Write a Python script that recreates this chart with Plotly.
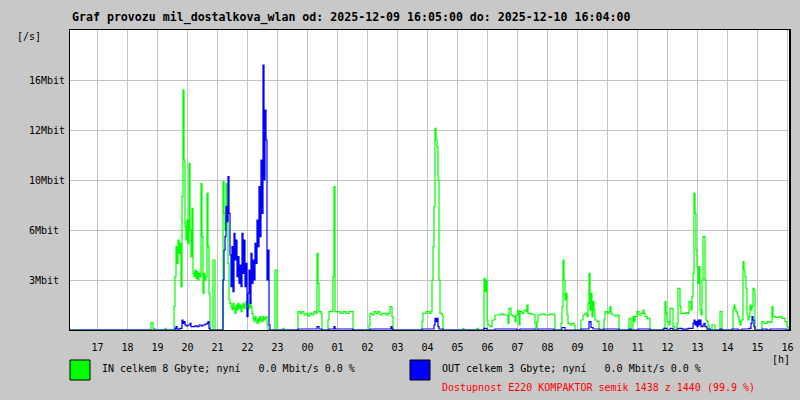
import plotly.graph_objects as go

# time axis: minutes since 2025-12-09 16:05
hour_ticks = [55 + 60 * i for i in range(24)]
hour_labels = ["17", "18", "19", "20", "21", "22", "23", "00", "01", "02", "03", "04",
               "05", "06", "07", "08", "09", "10", "11", "12", "13", "14", "15", "16"]

y_tickvals = [3, 6, 9, 12, 15]
y_ticktext = ["3Mbit\u00a0", "6Mbit\u00a0", "10Mbit", "12Mbit", "16Mbit"]

in_min = [0, 162, 166, 170, 190, 192, 208, 210, 212, 214, 216, 218, 220, 222, 224, 226, 228, 230,
          232, 234, 236, 238, 240, 242, 244, 246, 248, 250, 252, 254, 256, 258, 260, 262, 264, 266,
          268, 270, 272, 274, 276, 278, 280, 286, 290, 306, 308, 310, 312, 314, 316, 318, 320, 322,
          324, 326, 328, 330, 332, 334, 336, 338, 340, 342, 344, 346, 348, 350, 352, 354, 356, 358,
          360, 362, 364, 366, 368, 370, 372, 374, 376, 378, 380, 382, 384, 386, 388, 390, 392, 394,
          396, 410, 414, 426, 428, 456, 460, 464, 468, 472, 476, 480, 484, 488, 492, 494, 496, 498,
          502, 504, 516, 518, 526, 528, 530, 540, 546, 552, 558, 566, 598, 600, 604, 608, 612, 616,
          620, 624, 632, 636, 640, 644, 646, 704, 706, 712, 718, 722, 724, 726, 728, 730, 732, 734,
          736, 738, 740, 744, 746, 786, 788, 814, 816, 828, 830, 832, 834, 836, 840, 844, 850, 860,
          868, 876, 878, 882, 886, 890, 892, 896, 898, 900, 904, 908, 912, 914, 916, 922, 928, 930,
          932, 934, 936, 942, 950, 960, 968, 970, 982, 984, 986, 988, 990, 992, 994, 996, 1000, 1004,
          1008, 1010, 1022, 1026, 1030, 1034, 1036, 1038, 1040, 1042, 1044, 1046, 1048, 1050, 1054,
          1058, 1068, 1070, 1074, 1078, 1080, 1082, 1084, 1090, 1096, 1098, 1118, 1122, 1126, 1128,
          1130, 1134, 1138, 1142, 1146, 1148, 1150, 1154, 1160, 1186, 1190, 1192, 1194, 1198, 1200,
          1206, 1210, 1214, 1216, 1220, 1222, 1232, 1236, 1238, 1242, 1244, 1246, 1248, 1250, 1252,
          1254, 1256, 1258, 1260, 1262, 1264, 1266, 1270, 1272, 1274, 1276, 1278, 1280, 1284, 1290,
          1300, 1304, 1326, 1328, 1330, 1332, 1334, 1336, 1338, 1340, 1342, 1346, 1348, 1350, 1352,
          1354, 1356, 1358, 1360, 1362, 1364, 1366, 1368, 1370, 1384, 1388, 1394, 1400, 1404, 1406,
          1412, 1418, 1424, 1430, 1434, 1436, 1439]
in_mbit = [0, 0.44, 0.1, 0, 0.1, 0, 1.4, 3.2, 5.0, 4.0, 5.4, 4.6, 5.2, 2.6, 8.0, 14.4, 10.2, 6.2,
           5.4, 6.6, 5.2, 10.0, 6.0, 4.4, 7.3, 3.4, 3.2, 3.6, 3.1, 3.5, 3.0, 3.4, 3.2, 8.8, 5.6, 2.2,
           3.4, 3.0, 3.2, 8.2, 5.0, 2.2, 0, 4.2, 0, 8.9, 7.0, 6.0, 8.8, 7.2, 4.0, 1.8, 1.6, 1.4,
           1.2, 1.6, 1.3, 1.0, 1.5, 1.2, 1.6, 1.3, 1.5, 1.1, 1.4, 1.6, 1.3, 1.5, 1.7, 1.2, 1.5, 1.3,
           1.8, 1.4, 1.0, 0.7, 0.5, 0.8, 0.6, 0.4, 0.7, 0.5, 0.8, 0.6, 0.5, 0.8, 0.6, 0.7, 0.8, 0.3,
           0, 3.6, 0, 0.1, 0, 1.1, 1.0, 1.1, 0.9, 1.0, 0.85, 1.0, 0.9, 1.1, 1.0, 4.6, 2.8, 1.1,
           1.0, 0, 0.6, 1.1, 3.2, 8.6, 1.1, 1.0, 1.1, 1.0, 1.1, 0, 0.3, 1.0, 0.9, 1.1, 1.0, 1.1,
           0.9, 1.0, 0.9, 1.0, 1.4, 0.8, 0, 0.5, 1.0, 1.1, 1.0, 1.1, 3.0, 5.0, 7.4, 12.1, 11.4, 11.0,
           9.0, 3.0, 1.0, 0.9, 0, 0.1, 0, 0.1, 0, 3.1, 2.3, 3.0, 0.6, 0.3, 0.2, 0.6, 0.9, 0.95,
           0.9, 0.4, 1.3, 0.9, 0.8, 0.5, 0.9, 1.2, 0.3, 1.1, 1.0, 1.2, 1.1, 1.5, 1.0, 0.95, 0.9, 0.4,
           0.1, 0.5, 0.9, 0.95, 0.9, 0.95, 0.9, 0, 0.4, 1.4, 4.2, 3.0, 1.8, 2.2, 0.9, 0.4, 0.3, 0.4,
           0.3, 0, 0.6, 0.9, 1.0, 0.8, 1.6, 3.4, 1.2, 2.2, 0.8, 1.7, 1.2, 0.6, 0.5,
           0, 0.6, 1.1, 1.0, 1.1, 1.4, 1.0, 0.9, 0.85, 0.9, 0, 0.7, 0, 0.8, 0.5,
           0.8, 1.1, 0.9, 1.0, 1.2, 1.0, 0.8, 0.7, 0, 0.1, 1.7, 1.0, 0.5, 0.3, 1.3,
           0.2, 0, 0.4, 2.5, 1.4, 1.0, 1.05, 1.0, 1.7, 1.2, 2.0, 3.4, 8.2, 7.0, 4.8,
           3.8, 2.8, 3.8, 1.2, 0.9, 3.0, 5.6, 3.0, 0.6, 0.5, 0.3, 0.1, 0, 0.3, 0,
           1.1, 0, 1.2, 1.5, 1.3, 1.1, 1.0, 0.8, 0.5, 0.3, 0.6, 4.1, 3.6, 3.2, 2.5,
           0.9, 0.6, 0.8, 1.5, 1.2, 1.4, 2.5, 2.4, 0, 0.5, 0.4, 0.5, 0.45, 1.4, 0.8,
           0.75, 0.8, 0.7, 0.5, 0.2, 0, 0]

out_min = [0, 210, 212, 214, 220, 224, 226, 228, 230, 232, 236, 240, 242, 250, 254, 258, 262, 266,
           270, 274, 276, 278, 280, 306, 308, 310, 312, 314, 316, 318, 320, 322, 324, 326, 328, 330,
           332, 334, 336, 338, 340, 342, 344, 346, 348, 350, 352, 354, 356, 358, 360, 362, 364, 366,
           368, 370, 372, 374, 376, 378, 380, 382, 384, 386, 388, 390, 392, 394, 396, 398, 400, 456,
           494, 498, 504, 518, 528, 530, 566, 600, 642, 644, 646, 704, 728, 730, 732, 734, 736, 738,
           746, 828, 834, 850, 894, 900, 930, 936, 968, 984, 990, 1022, 1038, 1042, 1046, 1060, 1066,
           1098, 1118, 1122, 1136, 1160, 1188, 1194, 1200, 1206, 1216, 1224, 1236, 1246, 1248, 1250,
           1252, 1254, 1256, 1258, 1260, 1262, 1266, 1268, 1270, 1274, 1280, 1300, 1304, 1324, 1336,
           1344, 1358, 1362, 1364, 1366, 1368, 1370, 1384, 1394, 1400, 1432, 1439]
out_mbit = [0, 0.1, 0.2, 0.05, 0.1, 0.6, 0.4, 0.5, 0.3, 0.25, 0.3, 0.4, 0.2, 0.25, 0.2, 0.3, 0.25, 0.3,
            0.35, 0.4, 0.5, 0.1, 0, 3.0, 4.8, 5.6, 7.4, 6.5, 9.2, 7.0, 4.5, 2.6, 5.0, 2.3, 5.8, 4.2,
            5.4, 3.2, 4.4, 2.8, 3.9, 2.6, 5.8, 3.4, 5.4, 2.6, 4.0, 0.8, 2.2, 3.6, 1.6, 4.6, 2.8, 4.2,
            3.0, 5.2, 4.0, 6.6, 5.0, 8.6, 5.6, 10.2, 7.0, 15.9, 9.0, 13.2, 11.4, 3.0, 4.8, 0.3, 0, 0.06,
            0.2, 0.06, 0, 0.06, 0.2, 0.06, 0, 0.06, 0.2, 0.06, 0, 0.06, 0.3, 0.7, 0.5, 0.7, 0.2, 0.06,
            0, 0.1, 0, 0.06, 0, 0.06, 0, 0.06, 0, 0.15, 0, 0.06, 0.5, 0.15, 0.06, 0, 0.06,
            0, 0.06, 0, 0.06, 0, 0.1, 0, 0.1, 0, 0.1, 0.05, 0.1, 0.4, 0.6, 0.3,
            0.5, 0.2, 0.6, 0.3, 0.6, 0.2, 0.3, 0.4, 0.2, 0.05, 0, 0.06, 0, 0.06, 0,
            0.06, 0.1, 0.4, 0.8, 0.6, 0.2, 0, 0.06, 0, 0.06, 0, 0]

title_text = "Graf provozu mil_dostalkova_wlan od: 2025-12-09 16:05:00 do: 2025-12-10 16:04:00"
in_text = "IN celkem 8 Gbyte; nyní\u00a0\u00a0\u00a00.0 Mbit/s 0.0 %"
out_text = "OUT celkem 3 Gbyte; nyní\u00a0\u00a0\u00a00.0 Mbit/s 0.0 %"
avail_text = "Dostupnost E220 KOMPAKTOR semik 1438 z 1440 (99.9 %)"

GREEN = "#00ff00"
BLUE = "#0000ff"
MONO = "DejaVu Sans Mono"

fig = go.Figure()
fig.add_trace(go.Scatter(x=in_min, y=in_mbit, mode="lines", line=dict(color=GREEN, width=1.2, shape="hv"),
                         showlegend=False, hoverinfo="skip"))
fig.add_trace(go.Scatter(x=out_min, y=out_mbit, mode="lines", line=dict(color=BLUE, width=1.2, shape="hv"),
                         showlegend=False, hoverinfo="skip"))

L, T, W, H = 70, 30, 720, 300


def px(x):
    return (x - L) / W


def py(y):
    return (T + H - y) / H


fig.update_layout(
    width=800, height=400,
    margin=dict(l=L, r=800 - L - W, t=T, b=400 - T - H),
    paper_bgcolor="#c8c8c8", plot_bgcolor="#ffffff",
    font=dict(family=MONO, size=10, color="#000000"),
    xaxis=dict(range=[0, 1440], tickvals=hour_ticks, ticktext=hour_labels, showgrid=True,
               gridcolor="#c4c4c4", gridwidth=1, zeroline=False, showline=True, linecolor="#000000",
               linewidth=1, mirror=True, ticks="outside", ticklen=8, tickcolor="rgba(0,0,0,0)",
               tickfont=dict(family=MONO, size=10), automargin=False),
    yaxis=dict(range=[0, 18], tickvals=y_tickvals, ticktext=y_ticktext, showgrid=True,
               gridcolor="#c4c4c4", gridwidth=1, zeroline=False, showline=True, linecolor="#000000",
               linewidth=1, mirror=True, ticks="outside", ticklen=0, tickcolor="rgba(0,0,0,0)",
               ticklabelstandoff=2, tickfont=dict(family=MONO, size=10), automargin=False),
)

ann = [
    dict(text="<b>" + title_text + "</b>", x=px(70), y=py(18),
         font=dict(family=MONO, size=11.6, color="#000000")),
    dict(text="[/s]", x=px(15), y=py(37)),
    dict(text="[h]", x=px(770), y=py(359)),
    dict(text=in_text, x=px(100), y=py(368)),
    dict(text=out_text, x=px(440), y=py(368)),
    dict(text=avail_text, x=px(440), y=py(387), font=dict(family=MONO, size=10, color="#ff0000")),
]
for a in ann:
    fig.add_annotation(xref="paper", yref="paper", xanchor="left", yanchor="middle", showarrow=False,
                       **a)

fig.add_shape(type="rect", xref="paper", yref="paper", x0=px(70), x1=px(90), y0=py(380), y1=py(360),
              fillcolor=GREEN, line=dict(color="#000000", width=1))
fig.add_shape(type="rect", xref="paper", yref="paper", x0=px(410), x1=px(430), y0=py(380), y1=py(360),
              fillcolor=BLUE, line=dict(color="#000000", width=1))
fig.add_shape(type="line", xref="paper", yref="paper", x0=1, x1=1, y0=0, y1=1,
              line=dict(color="#000000", width=2))

fig.write_html("out.html", config={"displayModeBar": False},
               post_script="document.body.style.margin='0';document.body.style.overflow='hidden';")
